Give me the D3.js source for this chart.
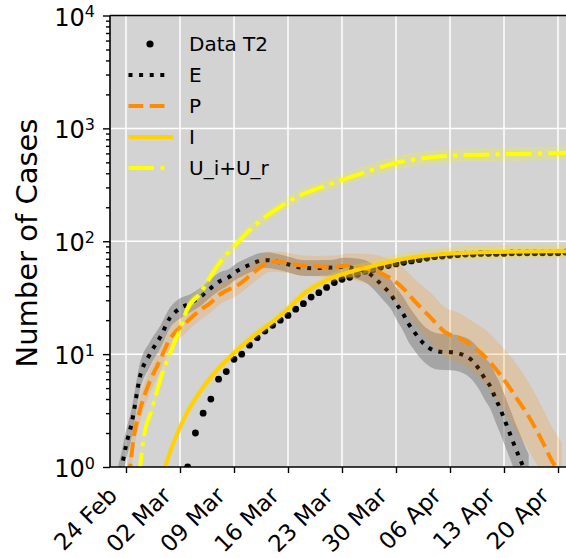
<!DOCTYPE html>
<html>
<head>
<meta charset="utf-8">
<script src="https://cdn.jsdelivr.net/npm/d3@7"></script>
<style>
  body { margin: 0; background: #fff; }
  text { font-family: "DejaVu Sans", sans-serif; }
</style>
</head>
<body>
<script>
// days are counted from 24 Feb 2020
const tDays = d3.range(8, 58)
const tCases = [1, 2, 3, 4, 6, 7, 9, 10, 12, 14, 16, 18, 20, 22, 25, 28, 32, 35, 39, 43,
  46, 48, 51, 54, 56, 59, 61, 63, 65, 67, 69, 71, 73, 74, 75, 76, 77, 77, 78, 78,
  78, 78, 79, 79, 79, 79, 79, 79, 79, 80]

const eDays = [-1.0, -0.56, 0.0, 0.74, 1.81, 3.1, 4.5, 5.7, 7.0, 8.4, 9.6, 10.9, 12.1, 13.3, 14.4, 15.6, 16.9, 18.2, 19.7, 21.1, 22.6, 24.0, 25.4, 26.9, 28.2, 29.6, 31.2, 32.3, 33.3, 34.4, 35.1, 35.9, 36.6, 37.4, 38.3, 39.4, 40.7, 42.2, 43.6, 44.8, 45.8, 46.5, 47.3, 47.9, 48.5, 49.0, 49.5, 50.0, 50.5, 51.1, 51.5, 52.2]
const eVals = [0.75, 1.0, 1.55, 2.45, 6.3, 10, 14.4, 21, 25.4, 28.4, 32, 38, 44, 48, 54.6, 60, 65.6, 68, 65.6, 62.2, 58.5, 57.7, 58, 58.5, 59.3, 57.5, 53.5, 46.8, 40, 33.3, 27.7, 22.9, 18.7, 15.6, 13, 11.2, 10.5, 10.4, 9.9, 8.85, 7.3, 6.1, 5.07, 4.06, 3.3, 2.7, 2.2, 1.8, 1.46, 1.17, 1.0, 0.78]
const eSpread = [0.14, 0.14, 0.13, 0.13, 0.12, 0.11, 0.1, 0.09, 0.09, 0.08, 0.08, 0.08, 0.08, 0.07, 0.07, 0.07, 0.07, 0.07, 0.07, 0.07, 0.07, 0.07, 0.07, 0.07, 0.08, 0.09, 0.1, 0.11, 0.12, 0.13, 0.14, 0.15, 0.16, 0.16, 0.16, 0.16, 0.16, 0.16, 0.16, 0.17, 0.18, 0.19, 0.2, 0.21, 0.22, 0.22, 0.22, 0.22, 0.22, 0.22, 0.22, 0.22]

const pDays = [0.2, 0.52, 0.95, 1.81, 2.89, 4.41, 5.6, 7.87, 9.59, 11.1, 11.76, 14.78, 16.94, 18.67, 19.96, 22.56, 24.72, 26.83, 27.74, 28.78, 29.9, 32.06, 34.0, 35.74, 37.69, 39.41, 41.35, 43.3, 45.02, 46.54, 48.06, 49.35, 50.65, 51.94, 53.24, 54.32, 55.39, 55.74, 56.5]
const pVals = [0.8, 1.0, 1.73, 3.2, 5.3, 8.85, 13.3, 19.3, 24.5, 29, 32.1, 42.2, 55.4, 65.6, 65.6, 61.3, 60.1, 59.3, 60, 60.4, 59, 55.4, 48.3, 39.4, 28.1, 21.4, 15.7, 13.8, 11.6, 9.5, 7.2, 5.5, 4.06, 3.0, 2.1, 1.51, 1.08, 1.0, 0.82]
const pSpread = [0.12, 0.12, 0.12, 0.11, 0.11, 0.1, 0.1, 0.09, 0.09, 0.09, 0.09, 0.09, 0.09, 0.09, 0.09, 0.09, 0.09, 0.1, 0.1, 0.11, 0.12, 0.14, 0.16, 0.18, 0.2, 0.22, 0.22, 0.22, 0.22, 0.24, 0.26, 0.28, 0.3, 0.3, 0.3, 0.3, 0.3, 0.3, 0.3]

const iDays = [4.4, 5.06, 6.13, 7.87, 10.02, 12.19, 13.91, 16.94, 19.54, 21.26, 22.56, 26.02, 29.04, 31.63, 35.09, 39.41, 43.73, 48.06, 56.65, 59]
const iVals = [0.7, 1.0, 1.62, 3.0, 5.1, 7.7, 10.1, 15.2, 20.7, 26.2, 32.1, 45.2, 53.5, 59.3, 67.9, 75.2, 78.8, 80.4, 81.6, 81.8]
const iSpread = [0.04, 0.04, 0.04, 0.04, 0.04, 0.04, 0.04, 0.04, 0.04, 0.04, 0.04, 0.04, 0.05, 0.05, 0.05, 0.05, 0.06, 0.06, 0.06, 0.06]

const uDays = [1.5, 1.81, 2.24, 3.33, 4.63, 6.13, 7.2, 7.87, 9.59, 11.76, 14.35, 16.94, 19.96, 22.56, 26.02, 28.61, 35.52, 39.84, 46.32, 52.8, 57.04, 59]
const uVals = [0.8, 1.0, 1.73, 3.2, 6.5, 12, 18, 24.5, 34.4, 59.3, 95.5, 143, 201, 255, 313, 360, 503, 557, 585, 597, 605, 607]
const uSpread = [0.05, 0.05, 0.05, 0.05, 0.05, 0.05, 0.05, 0.05, 0.05, 0.05, 0.05, 0.05, 0.05, 0.05, 0.05, 0.05, 0.06, 0.06, 0.06, 0.06, 0.06, 0.06]

const yTicks = [1, 10, 100, 1000, 10000]

const start = Date.UTC(2020, 1, 24)
const day = (d) => new Date(start + d * 864e5)

const W = 566, H = 558
const pLeft = 110, pTop = 15.5, pBottom = 467

let svg = d3.select('body').append('svg')
  .attr('width', W).attr('height', H)

let x = d3.scaleUtc().domain([day(0), day(56)]).range([126, 558])
let y = d3.scaleLog().domain([1, 1e4]).range([pBottom, pTop])

//plot background
svg.append('rect')
  .attr('x', pLeft).attr('y', pTop)
  .attr('width', W - pLeft + 10).attr('height', pBottom - pTop)
  .attr('fill', '#d3d3d3')

svg.append('clipPath').attr('id', 'clip')
  .append('rect')
  .attr('x', pLeft).attr('y', pTop)
  .attr('width', W - pLeft + 10).attr('height', pBottom - pTop)

//grid
let weeks = d3.utcDay.range(day(0), day(60), 7)
svg.append('g').selectAll('line').data(weeks).enter()
  .append('line')
  .attr('x1', (d) => x(d)).attr('x2', (d) => x(d))
  .attr('y1', pTop).attr('y2', pBottom)
  .attr('stroke', 'white').attr('stroke-width', 1.5)
svg.append('g').selectAll('line').data(yTicks.slice(1, -1)).enter()
  .append('line')
  .attr('x1', pLeft).attr('x2', W + 10)
  .attr('y1', (d) => y(d)).attr('y2', (d) => y(d))
  .attr('stroke', 'white').attr('stroke-width', 1.5)

let plot = svg.append('g').attr('clip-path', 'url(#clip)')

//data points
plot.selectAll('circle').data(tDays).enter()
  .append('circle')
  .attr('cx', (d) => x(day(d)))
  .attr('cy', (d, i) => y(tCases[i]))
  .attr('r', 3.4)
  .attr('fill', 'black')

const series = [
  { days: eDays, vals: eVals, spread: eSpread, color: 'black', band: '#808080', bandOp: 0.55, dash: '4,6.6' },
  { days: pDays, vals: pVals, spread: pSpread, color: '#ff8c00', band: '#ff8c00', bandOp: 0.2, dash: '14.8,6.4' },
  { days: iDays, vals: iVals, spread: iSpread, color: '#ffd200', band: '#ffd700', bandOp: 0.25, dash: null },
  { days: uDays, vals: uVals, spread: uSpread, color: '#ffff00', band: '#ffff00', bandOp: 0.2, dash: '25.6,6.4,4,6.4' }
]

series.forEach((s) => {
  let pts = s.days.map((d, i) => ({ d: d, v: s.vals[i], w: s.spread[i] }))
  let area = d3.area()
    .x((p) => x(day(p.d)))
    .y0((p) => y(p.v / Math.pow(10, p.w)))
    .y1((p) => y(p.v * Math.pow(10, p.w)))
    .curve(d3.curveMonotoneX)
  let line = d3.line()
    .x((p) => x(day(p.d)))
    .y((p) => y(p.v))
    .curve(d3.curveMonotoneX)
  plot.append('path').datum(pts)
    .attr('d', area)
    .attr('fill', s.band).attr('fill-opacity', s.bandOp)
  plot.append('path').datum(pts)
    .attr('d', line)
    .attr('fill', 'none')
    .attr('stroke', s.color).attr('stroke-width', 4)
    .attr('stroke-dasharray', s.dash)
})

//axes
let minor = []
yTicks.slice(0, -1).forEach((t) => { for (let k = 2; k < 10; k++) minor.push(t * k) })

let yMinor = svg.append('g').attr('transform', `translate(${pLeft},0)`)
  .call(d3.axisLeft(y).tickValues(minor).tickSize(4).tickFormat(''))
let yMajor = svg.append('g').attr('transform', `translate(${pLeft},0)`)
  .call(d3.axisLeft(y).tickValues(yTicks).tickSize(7).tickFormat(''))
yMinor.select('.domain').remove()
yMajor.select('.domain').remove()
svg.selectAll('.tick line').attr('stroke', 'black').attr('stroke-width', 1.4)

let yLab = svg.append('g').selectAll('text').data(yTicks).enter()
  .append('text')
  .attr('x', 95)
  .attr('y', (d) => y(d) + 10)
  .attr('text-anchor', 'end')
  .attr('font-size', 24)
  .attr('fill', 'black')
yLab.append('tspan').text('10')
yLab.append('tspan').attr('dy', -8.5).attr('font-size', 16).text((d) => Math.round(Math.log10(d)))

let xAxis = svg.append('g').attr('transform', `translate(0,${pBottom})`)
  .call(d3.axisBottom(x).tickValues(weeks.filter((d) => x(d) < W)).tickSize(6).tickFormat(d3.utcFormat('%d %b')))
xAxis.select('.domain').remove()
xAxis.selectAll('.tick line').attr('stroke', 'black').attr('stroke-width', 1.4)
xAxis.selectAll('text')
  .attr('x', 0).attr('y', 0).attr('dy', 0)
  .attr('transform', 'translate(-8,30) rotate(-45)')
  .style('text-anchor', 'end')
  .attr('font-size', 23)
  .attr('font-family', '"DejaVu Sans", sans-serif')
  .attr('fill', 'black')

//spines
svg.append('line').attr('x1', pLeft).attr('x2', pLeft).attr('y1', pTop).attr('y2', pBottom)
  .attr('stroke', 'black').attr('stroke-width', 1.6)
svg.append('line').attr('x1', pLeft).attr('x2', W + 10).attr('y1', pBottom).attr('y2', pBottom)
  .attr('stroke', 'black').attr('stroke-width', 1.6)
svg.append('line').attr('x1', pLeft).attr('x2', W + 10).attr('y1', pTop).attr('y2', pTop)
  .attr('stroke', 'black').attr('stroke-width', 1.6)

svg.append('text')
  .attr('transform', 'translate(37,243) rotate(-90)')
  .attr('text-anchor', 'middle')
  .attr('font-size', 29)
  .text('Number of Cases')

//legend
const legendNames = ['Data T2', 'E', 'P', 'I', 'U_i+U_r']
let lg = svg.append('g')
legendNames.forEach((name, i) => {
  let cy = 44 + i * 31
  if (i == 0) {
    lg.append('circle').attr('cx', 150).attr('cy', cy).attr('r', 3.6).attr('fill', 'black')
  } else {
    let s = series[i - 1]
    lg.append('line')
      .attr('x1', 128.5).attr('x2', i == 3 ? 173 : 167)
      .attr('y1', cy).attr('y2', cy)
      .attr('stroke', s.color).attr('stroke-width', 4)
      .attr('stroke-dasharray', s.dash)
  }
  lg.append('text')
    .attr('x', 189).attr('y', cy + 7)
    .attr('font-size', 20)
    .text(name)
})
</script>
</body>
</html>
